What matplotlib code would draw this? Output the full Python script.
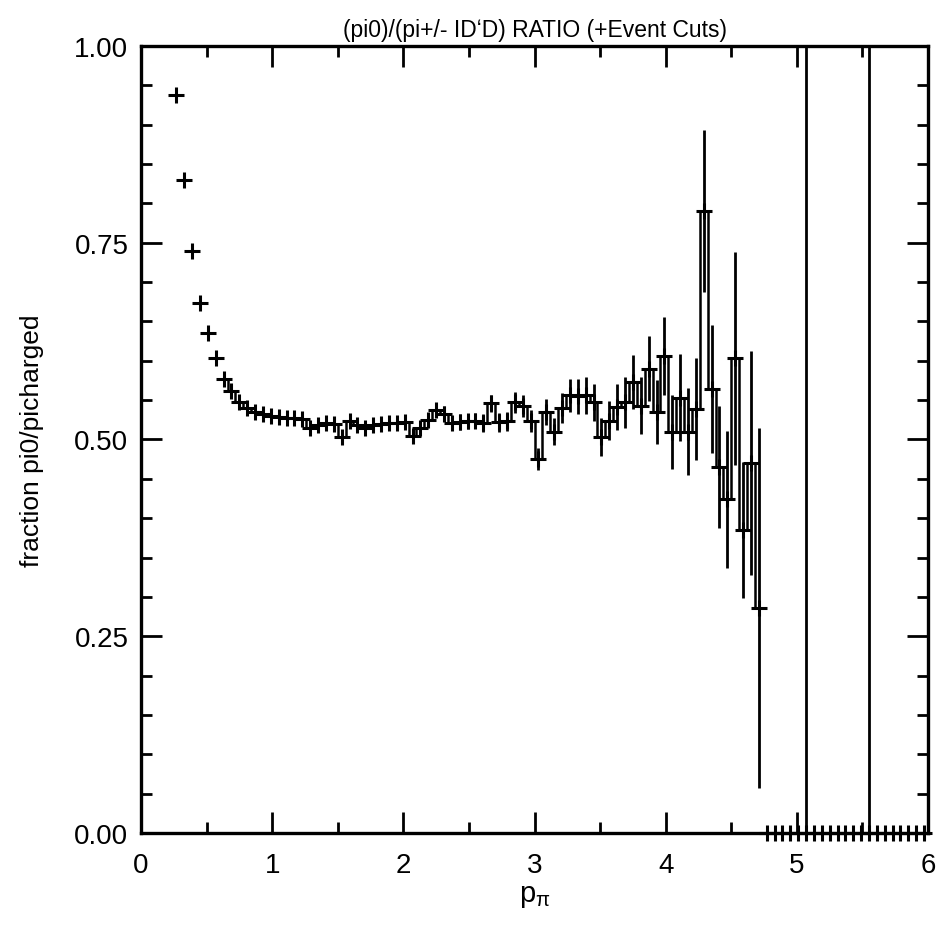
import numpy as np
import matplotlib
matplotlib.use("Agg")
import matplotlib.pyplot as plt
from matplotlib.ticker import MultipleLocator

plt.rcParams['font.family'] = ['Liberation Sans', 'DejaVu Sans']

# bin centres of p_pi with measured ratio
p = [0.27, 0.33, 0.39, 0.45, 0.51, 0.57, 0.63, 0.69, 0.75, 0.81,
     0.87, 0.93, 0.99, 1.05, 1.11, 1.17, 1.23, 1.29, 1.35, 1.41,
     1.47, 1.53, 1.59, 1.65, 1.71, 1.77, 1.83, 1.89, 1.95, 2.01,
     2.07, 2.13, 2.19, 2.25, 2.31, 2.37, 2.43, 2.49, 2.55, 2.61,
     2.67, 2.73, 2.79, 2.85, 2.91, 2.97, 3.03, 3.09, 3.15, 3.21,
     3.27, 3.33, 3.39, 3.45, 3.51, 3.57, 3.63, 3.69, 3.75, 3.81,
     3.87, 3.93, 3.99, 4.05, 4.11, 4.17, 4.23, 4.29, 4.35, 4.41,
     4.47, 4.53, 4.59, 4.65, 4.71]
ratio = [0.938, 0.830, 0.740, 0.674, 0.635, 0.603, 0.577, 0.562, 0.547, 0.540,
         0.535, 0.532, 0.530, 0.528, 0.527, 0.527, 0.526, 0.514, 0.518, 0.521,
         0.520, 0.503, 0.523, 0.518, 0.515, 0.519, 0.520, 0.521, 0.521, 0.522,
         0.505, 0.514, 0.525, 0.537, 0.533, 0.521, 0.522, 0.523, 0.524, 0.521,
         0.546, 0.522, 0.523, 0.547, 0.542, 0.524, 0.475, 0.535, 0.510, 0.540,
         0.556, 0.555, 0.556, 0.547, 0.503, 0.524, 0.541, 0.547, 0.573, 0.543,
         0.590, 0.535, 0.606, 0.510, 0.553, 0.510, 0.539, 0.790, 0.564, 0.465,
         0.424, 0.603, 0.385, 0.470, 0.286]
err = [0.003, 0.003, 0.003, 0.003, 0.003, 0.003, 0.003, 0.003, 0.003, 0.003,
       0.003, 0.003, 0.003, 0.003, 0.003, 0.004, 0.004, 0.004, 0.004, 0.005,
       0.005, 0.005, 0.005, 0.005, 0.006, 0.006, 0.006, 0.006, 0.007, 0.007,
       0.007, 0.008, 0.008, 0.008, 0.009, 0.009, 0.010, 0.010, 0.010, 0.011,
       0.011, 0.012, 0.012, 0.013, 0.014, 0.014, 0.014, 0.017, 0.017, 0.019,
       0.021, 0.022, 0.023, 0.024, 0.024, 0.025, 0.029, 0.032, 0.034, 0.036,
       0.041, 0.041, 0.050, 0.047, 0.055, 0.055, 0.065, 0.103, 0.081, 0.077,
       0.087, 0.135, 0.086, 0.142, 0.229]

# empty bins above 4.74 (ratio 0)
p_empty = [4.77, 4.83, 4.89, 4.95, 5.01, 5.07, 5.13, 5.19, 5.25, 5.31, 5.37,
           5.43, 5.49, 5.55, 5.61, 5.67, 5.73, 5.79, 5.85, 5.91, 5.97]
ratio_empty = [0.0] * len(p_empty)
err_empty = [0, 0, 0, 0, 0, 1.5, 0, 0, 0, 0, 0,
             0, 0, 1.5, 0, 0, 0, 0, 0, 0, 0]

step_start = 6  # histogram line drawn from this bin on

fig = plt.figure(figsize=(9.36, 9.29), dpi=100)
ax = fig.add_axes([0.1506, 0.1023, 0.8409, 0.8471])

# histogram line
ax.step(p[step_start:], ratio[step_start:], where='mid', color='k', lw=1.8)

# error bars
ax.errorbar(p, ratio, yerr=err, fmt='none', ecolor='k', elinewidth=2)
ax.errorbar(p_empty, ratio_empty, yerr=err_empty, fmt='none', ecolor='k', elinewidth=2)

# plus markers (not clipped at the axis)
ax.plot(p, ratio, '+', color='k', ms=11.5, mew=2.2, clip_on=False)
ax.plot(p_empty, ratio_empty, '+', color='k', ms=11.5, mew=2.2, clip_on=False)

ax.set_xlim(0, 6)
ax.set_ylim(0, 1)
ax.xaxis.set_major_locator(MultipleLocator(1))
ax.xaxis.set_minor_locator(MultipleLocator(0.5))
ax.yaxis.set_major_locator(MultipleLocator(0.25))
ax.yaxis.set_minor_locator(MultipleLocator(0.05))
ax.yaxis.set_major_formatter(matplotlib.ticker.FormatStrFormatter('%.2f'))

ax.tick_params(which='both', direction='in', top=True, right=True, colors='k', labelsize=20)
ax.tick_params(which='major', length=15, width=2)
ax.tick_params(which='minor', length=7.7, width=2)
ax.tick_params(axis='x', which='major', pad=14)
ax.tick_params(axis='y', which='major', pad=9)
for s in ax.spines.values():
    s.set_linewidth(2.4)

ax.set_title("(pi0)/(pi+/- ID\u02BBD) RATIO (+Event Cuts)", fontsize=16.5, pad=7)
ax.set_xlabel(r"p$_\mathregular{π}$", fontsize=21, labelpad=2)
ax.set_ylabel("fraction pi0/picharged", fontsize=19, labelpad=22)

fig.savefig("out.png", dpi=100)
